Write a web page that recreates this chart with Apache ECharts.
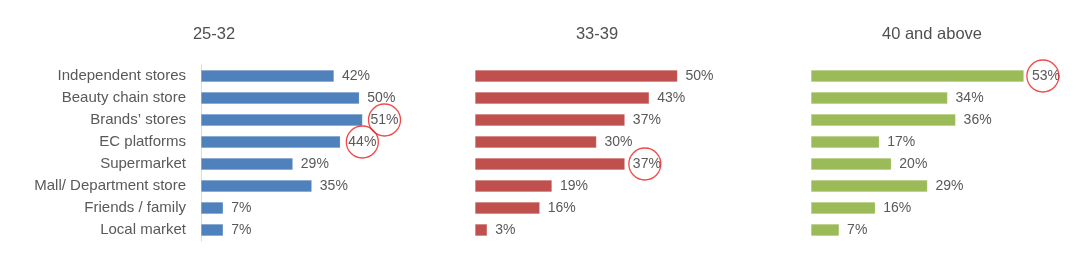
<!DOCTYPE html>
<html>
<head>
<meta charset="utf-8">
<script src="https://cdn.jsdelivr.net/npm/echarts@6/dist/echarts.min.js"></script>
<style>
html,body{margin:0;padding:0;background:#fff;}
#c{width:1080px;height:265px;}
</style>
</head>
<body>
<div id="c"></div>
<script>
var categories = ['Independent stores','Beauty chain store','Brands\u2019 stores','EC platforms','Supermarket','Mall/ Department store','Friends / family','Local market'];
var groupTitles = ['25-32','33-39','40 and above'];
var values2532 = [42,50,51,44,29,35,7,7];
var values3339 = [50,43,37,30,37,19,16,3];
var values40up = [53,34,36,17,20,29,16,7];
var highlight2532 = [2,3];
var highlight3339 = [4];
var highlight40up = [0];

var seriesValues = [values2532, values3339, values40up];
var highlights = [highlight2532, highlight3339, highlight40up];
var colors = ['#4f81bd','#c0504d','#9bbb59'];
var grids = [
  {left:201, top:65, width:190, height:176},
  {left:475, top:65, width:243, height:176},
  {left:811, top:65, width:241, height:176}
];
var titleX = [214, 597, 932];
var circleOffset = [22, 20, 19];
var FONT = 'Liberation Sans, Arial, sans-serif';

var option = {
  animation:false,
  title: groupTitles.map(function(t,i){
    return {text:t, left:titleX[i], top:26, textAlign:'center', padding:0,
      textStyle:{fontFamily:FONT, fontSize:16.5, fontWeight:'normal', color:'#505050'}};
  }),
  grid: grids,
  xAxis: grids.map(function(g,i){
    return {type:'value', gridIndex:i, min:0, max:60, show:false};
  }),
  yAxis: grids.map(function(g,i){
    return {type:'category', gridIndex:i, data:categories, inverse:true,
      axisLine:{show:i===0, lineStyle:{color:'#d9d9d9', width:1}},
      axisTick:{show:false},
      axisLabel:{show:i===0, margin:15, fontFamily:FONT, fontSize:15, color:'#595959'},
      splitLine:{show:false}};
  }),
  series: []
};

seriesValues.forEach(function(vals,i){
  option.series.push({
    type:'bar', xAxisIndex:i, yAxisIndex:i, data:vals, barWidth:12,
    itemStyle:{color:colors[i], borderColor:'rgba(255,255,255,0.35)', borderWidth:0.5},
    label:{show:true, position:'right', distance:8, formatter:'{c}%',
      fontFamily:FONT, fontSize:14, color:'#595959'}
  });
  option.series.push({
    type:'scatter', xAxisIndex:i, yAxisIndex:i, z:5,
    data: highlights[i].map(function(k){ return [vals[k], k]; }),
    symbol:'circle', symbolSize:32, symbolOffset:[circleOffset[i],0],
    itemStyle:{color:'rgba(0,0,0,0)', borderColor:'#ee1c1c', borderWidth:1.3},
    silent:true
  });
});

var chart = echarts.init(document.getElementById('c'), null, {renderer:'canvas'});
chart.setOption(option);
</script>
</body>
</html>
